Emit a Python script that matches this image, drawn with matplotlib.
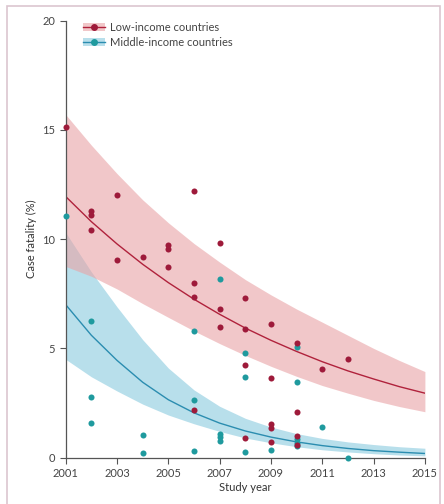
import matplotlib
matplotlib.use("Agg")
import matplotlib.pyplot as plt
from matplotlib.patches import Patch, Rectangle
from matplotlib.lines import Line2D

plt.rcParams['font.family'] = ['Lato', 'DejaVu Sans']

# study-level case fatality (%), low-income countries
low_years = [2001, 2002, 2002, 2002, 2003, 2003, 2004, 2005, 2005, 2005,
             2006, 2006, 2006, 2006, 2007, 2007, 2007, 2008, 2008, 2008, 2008,
             2009, 2009, 2009, 2009, 2009, 2010, 2010, 2010, 2010, 2011, 2012]
low_cf = [15.15, 11.3, 11.1, 10.4, 12.0, 9.05, 9.17, 9.73, 9.54, 8.74,
          12.2, 7.98, 7.37, 2.18, 9.84, 6.8, 5.97, 7.32, 5.9, 4.24, 0.9,
          6.1, 3.66, 1.53, 1.37, 0.7, 5.26, 2.08, 0.99, 0.6, 4.05, 4.5]

# middle-income countries
mid_years = [2001, 2002, 2002, 2002, 2004, 2004, 2006, 2006, 2006,
             2007, 2007, 2007, 2007, 2008, 2008, 2008, 2009,
             2010, 2010, 2010, 2010, 2010, 2011, 2012]
mid_cf = [11.05, 6.26, 2.79, 1.6, 1.04, 0.23, 5.8, 2.64, 0.29,
          8.18, 1.07, 0.93, 0.78, 4.78, 3.71, 0.27, 0.35,
          5.08, 3.48, 0.84, 0.66, 0.54, 1.42, 0.0]

# fitted trend and 95% band, read at each year
fit_years = list(range(2001, 2016))
low_fit = [11.95, 10.8, 9.78, 8.85, 8.01, 7.25, 6.56, 5.93, 5.37, 4.86, 4.39, 3.97, 3.6, 3.25, 2.95]
low_upper = [15.7, 14.3, 13.0, 11.8, 10.75, 9.8, 8.95, 8.15, 7.45, 6.8, 6.2, 5.6, 5.0, 4.45, 3.94]
low_lower = [8.75, 8.3, 7.72, 7.05, 6.42, 5.8, 5.22, 4.68, 4.18, 3.72, 3.3, 2.95, 2.62, 2.34, 2.1]
mid_fit = [7.0, 5.6, 4.45, 3.45, 2.65, 2.05, 1.58, 1.22, 0.94, 0.72, 0.55, 0.42, 0.32, 0.25, 0.19]
mid_upper = [10.3, 8.5, 6.9, 5.4, 4.1, 3.1, 2.35, 1.8, 1.4, 1.1, 0.88, 0.72, 0.6, 0.5, 0.43]
mid_lower = [4.5, 3.7, 3.05, 2.45, 1.95, 1.55, 1.2, 0.9, 0.68, 0.5, 0.36, 0.26, 0.18, 0.12, 0.08]

x_ticks = [2001, 2003, 2005, 2007, 2009, 2011, 2013, 2015]
y_ticks = [0, 5, 10, 15, 20]

red = '#9e1a3a'
red_line = '#b0223c'
teal = '#1f9a9e'
blue_line = '#2b8db0'
red_band = '#e9a3a6'
blue_band = '#7ec5dc'

fig = plt.figure(figsize=(4.44, 5.04), dpi=100)
ax = fig.add_axes([0.148, 0.092, 0.809, 0.867])

ax.fill_between(fit_years, mid_lower, mid_upper, color=blue_band, alpha=0.55, lw=0)
ax.fill_between(fit_years, low_lower, low_upper, color=red_band, alpha=0.6, lw=0)
ax.plot(fit_years, mid_fit, color=blue_line, lw=1)
ax.plot(fit_years, low_fit, color=red_line, lw=1)

ax.scatter(mid_years, mid_cf, s=19, color=teal, zorder=3, clip_on=False, lw=0)
ax.scatter(low_years, low_cf, s=19, color=red, zorder=3, clip_on=False, lw=0)

ax.set_xlim(2001, 2015)
ax.set_ylim(0, 20)
ax.set_xticks(x_ticks)
ax.set_yticks(y_ticks)
for s in ['top', 'right']:
    ax.spines[s].set_visible(False)
for s in ['left', 'bottom']:
    ax.spines[s].set_color('#555555')
    ax.spines[s].set_linewidth(0.9)
ax.tick_params(colors='#555555', labelcolor='#444444', labelsize=8, length=4, width=0.8)
ax.set_xlabel('Study year', fontsize=8, color='#333333', labelpad=2)
ax.set_ylabel('Case fatality (%)', fontsize=8, color='#333333', labelpad=4)

handles = [
    (Patch(facecolor=red_band, alpha=0.6, lw=0),
     Line2D([], [], color=red_line, lw=1, marker='o', ms=4, mfc=red, mec=red)),
    (Patch(facecolor=blue_band, alpha=0.55, lw=0),
     Line2D([], [], color=blue_line, lw=1, marker='o', ms=4, mfc=teal, mec=teal)),
]
ax.legend(handles, ['Low-income countries', 'Middle-income countries'],
          loc='upper left', bbox_to_anchor=(0.02, 1.02), frameon=False,
          fontsize=8, handlelength=2.0, handletextpad=0.4, labelspacing=0.35,
          labelcolor='#444444')

# light frame around the panel
fig.patches.append(Rectangle((7 / 444, -0.05), 433 / 444, 1.05 - 6 / 504,
                             transform=fig.transFigure, fill=False,
                             edgecolor='#dcc6cf', lw=1.2))

fig.savefig('out.png', dpi=100)
